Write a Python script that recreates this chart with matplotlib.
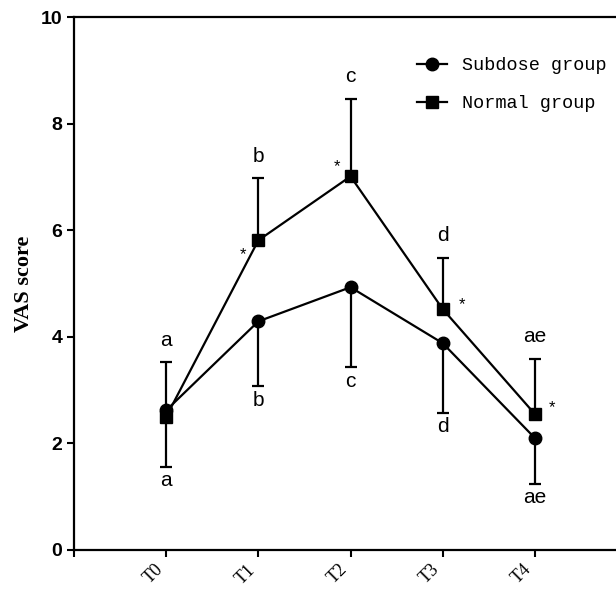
import numpy as np
import matplotlib
matplotlib.use("Agg")
import matplotlib.pyplot as plt

# data
times = ["T0", "T1", "T2", "T3", "T4"]
subdose_mean = [2.62, 4.29, 4.93, 3.88, 2.10]
subdose_sd = [1.06, 1.22, 1.50, 1.31, 0.86]
normal_mean = [2.50, 5.81, 7.01, 4.52, 2.55]
normal_sd = [1.02, 1.16, 1.45, 0.96, 1.03]
subdose_letters = ["a", "b", "c", "d", "ae"]
normal_letters = ["a", "b", "c", "d", "ae"]
star_points = [1, 2, 3, 4]

x = np.arange(len(times))
sub_low = np.array(subdose_mean) - np.array(subdose_sd)
norm_high = np.array(normal_mean) + np.array(normal_sd)

fig = plt.figure(figsize=(6.16, 5.89), dpi=100)
ax = fig.add_axes([74 / 616, 39 / 589, 1 - 74 / 616, 533 / 589])

# error bars: subdose downwards, normal upwards (single cap at the far end)
ax.vlines(x, sub_low, subdose_mean, color="black", lw=1.6)
ax.vlines(x, normal_mean, norm_high, color="black", lw=1.6)
ax.plot(x, sub_low, ls="none", marker="_", ms=8, mew=1.6, color="black")
ax.plot(x, norm_high, ls="none", marker="_", ms=8, mew=1.6, color="black")

ax.plot(x, subdose_mean, color="black", lw=1.6, marker="o", ms=9, label="Subdose group")
ax.plot(x, normal_mean, color="black", lw=1.6, marker="s", ms=8.5, label="Normal group")

# significance letters
for xi, hi, lab in zip(x, norm_high, normal_letters):
    ax.annotate(lab, (xi, hi), xytext=(0, 16), textcoords="offset points",
                ha="center", va="center", fontsize=15, family="Liberation Sans")
for xi, lo, lab in zip(x, sub_low, subdose_letters):
    ax.annotate(lab, (xi, lo), xytext=(0, -10), textcoords="offset points",
                ha="center", va="center", fontsize=15, family="Liberation Sans")

# asterisks next to normal group points
star_offsets = {1: (-11, -10), 2: (-9.5, 7), 3: (14, 3), 4: (12, 5)}
for i in star_points:
    ax.annotate("*", (x[i], normal_mean[i]), xytext=star_offsets[i], textcoords="offset points",
                ha="center", va="center", fontsize=12, family="Liberation Sans")

ax.set_xlim(-1, 4.88)
ax.set_ylim(0, 10)
ax.set_xticks(list(x) + [-1])
ax.set_xticklabels(times + [""], rotation=45, ha="right", va="top",
                   family="Liberation Serif", fontsize=13)
ax.set_yticks([0, 2, 4, 6, 8, 10])
ax.set_yticklabels([0, 2, 4, 6, 8, 10], fontsize=14, fontweight="bold", family="Liberation Sans")
ax.tick_params(axis="both", direction="out", length=5, width=1.5)
ax.tick_params(axis="x", pad=3)
ax.set_ylabel("VAS score", family="Liberation Serif", fontweight="bold", fontsize=16, labelpad=5)

for sp in ["left", "bottom", "top"]:
    ax.spines[sp].set_linewidth(1.6)
ax.spines["right"].set_visible(False)

ax.legend(loc="upper left", bbox_to_anchor=(417 / 616, 1 - 57 / 589), bbox_transform=fig.transFigure,
          frameon=False, borderpad=0, borderaxespad=0, handlelength=1.6, handletextpad=0.85,
          labelspacing=1.15, prop={"family": "Liberation Mono", "size": 13.3})

fig.savefig("out.png", dpi=100)
